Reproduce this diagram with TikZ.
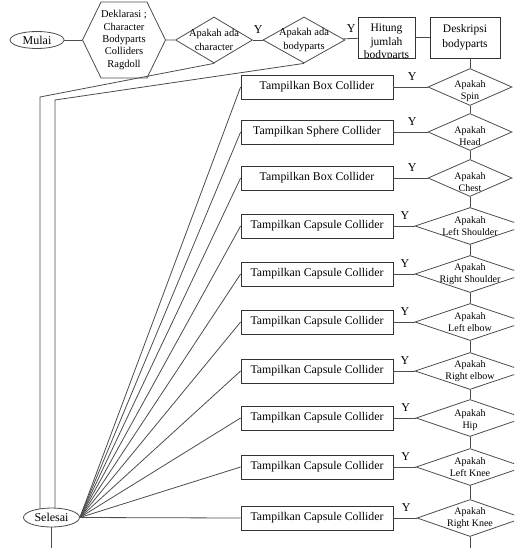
\documentclass[tikz,border=0pt]{standalone}
\usepackage{fontspec}
\setmainfont{Liberation Serif}
\usetikzlibrary{positioning,shapes.geometric,shapes.symbols}

\begin{document}
\begin{tikzpicture}[x=1pt,y=-1pt,
    garis/.style={draw=black!70, line width=0.8pt},
    kotak/.style={draw=black!80, line width=0.8pt, minimum width=152, minimum height=24, inner sep=1pt, font=\fontsize{11.8}{13}\selectfont},
    tanya/.style={diamond, draw=black!70, line width=0.8pt, minimum height=37, inner sep=0pt},
    dteks/.style={align=center, inner sep=0pt, font=\fontsize{10}{12.5}\selectfont},
    ya/.style={above=5pt, pos=0.55, inner sep=1pt, font=\fontsize{12}{12}\selectfont},
    ujung/.style={ellipse, draw=black!70, line width=0.8pt, inner sep=0pt, font=\fontsize{12}{12}\selectfont}]
\clip (0,0) rectangle (514,548);

% baris atas
\node[ujung, minimum width=54, minimum height=17] (mulai) at (37,40) {Mulai};
\node[signal, signal to=west and east, signal pointer angle=128, draw=black!70, line width=0.8pt,
    minimum width=83, minimum height=76, inner sep=0pt, align=center,
    font=\fontsize{10.5}{12.3}\selectfont] (dekl) at (124,40) {Deklarasi ;\\Character\\Bodyparts\\Colliders\\Ragdoll};
\node[tanya, minimum width=77, minimum height=46,
    label={[dteks, font=\fontsize{10.5}{14}\selectfont]center:Apakah ada\\character}] (adachar) at (214,40) {};
\node[tanya, minimum width=82, minimum height=46,
    label={[dteks, font=\fontsize{10.5}{13.5}\selectfont]center:Apakah ada\\bodyparts}] (adabody) at (304,40) {};
\node[draw=black!80, line width=0.8pt, minimum width=57, minimum height=41,
    path picture={\node[align=center, inner sep=1pt, anchor=north, font=\fontsize{11.5}{13.5}\selectfont]
      at ([yshift=-5pt]path picture bounding box.north) {Hitung\\jumlah\\bodyparts};}] (hitung) at (386.5,37.5) {};
\node[draw=black!80, line width=0.8pt, minimum width=70, minimum height=41, align=center,
    font=\fontsize{11.5}{15}\selectfont] (deskripsi) at (465,37.5) {Deskripsi\\bodyparts};

\draw[garis] (mulai) -- (dekl);
\draw[garis] (dekl) -- (adachar);
\draw[garis] (adachar) -- node[ya] {Y} (adabody);
\draw[garis] (adabody) -- node[ya] {Y} (hitung);
\draw[garis] (hitung) -- (deskripsi);

% selesai
\node[ujung, minimum width=56, minimum height=19] (selesai) at (51.5,517.5) {Selesai};
\coordinate (belok1) at (40,97);
\coordinate (belok2) at (55,100);
\coordinate (bawah1) at (50,548);
\coordinate (bawah2) at (470,548);
\draw[garis] (adachar.south) -- (belok1) -- (belok1 |- selesai.150);
\draw[garis] (adabody.south) -- (belok2) -- (belok2 |- selesai.north);
\draw[garis] (selesai.south) -- (bawah1 -| selesai.south);

% cek bodyparts
\foreach \n/\yy/\bagian/\jenis/\lebar/\geser in {1/87/Spin/Box/84/4, 2/132/Head/Sphere/84/4, 3/178/Chest/Box/84/4,
    4/226/Left Shoulder/Capsule/110/0, 5/274/Right Shoulder/Capsule/110/0, 6/322/Left elbow/Capsule/110/0,
    7/371/Right elbow/Capsule/110/0, 8/418/Hip/Capsule/108/2, 9/467/Left Knee/Capsule/108/0,
    10/518/Right Knee/Capsule/106/0}{
  \node[tanya, minimum width=\lebar, label={[dteks, yshift=-\geser pt]center:Apakah\\\bagian}] (cek\n) at (470,\yy) {};
  \node[kotak] (tampil\n) at (317,\yy) {Tampilkan \jenis\ Collider};
  \draw[garis] (tampil\n) -- node[ya] {Y} (cek\n);
  \draw[garis] (selesai.east) -- (tampil\n.west);
}

\draw[garis] (cek1.north) -- (cek1.north |- deskripsi.south);
\foreach \n [evaluate=\n as \m using {int(\n-1)}] in {2,...,10}
  \draw[garis] (cek\m.south) -- (cek\n.north);
\draw[garis] (cek10.south) -- (bawah2);

\end{tikzpicture}
\end{document}
